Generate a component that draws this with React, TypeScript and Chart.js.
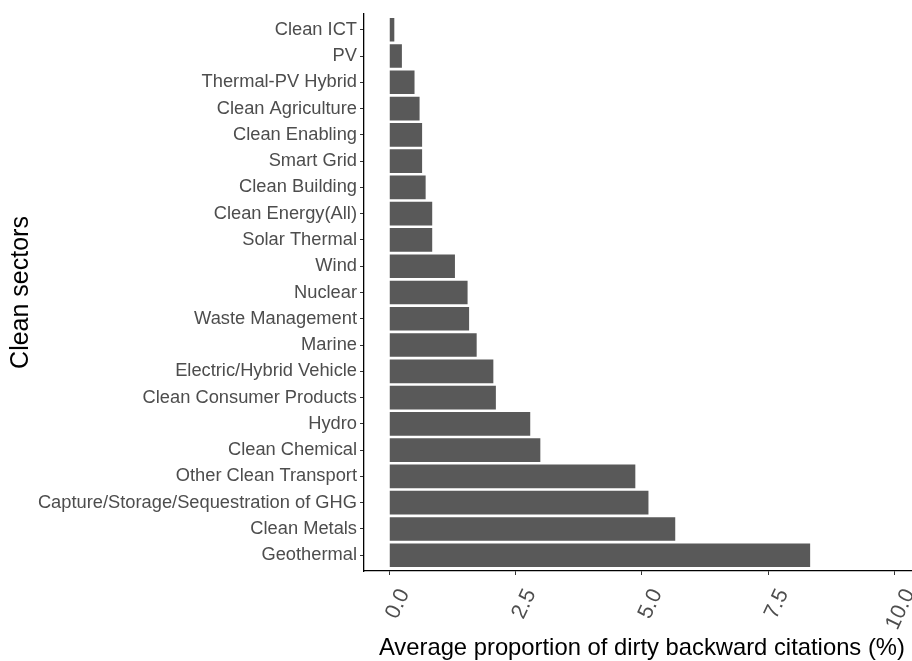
import React, { useEffect, useRef } from "react";
import { Chart, registerables } from "chart.js";

Chart.register(...registerables);

const categories: string[] = [
  "Clean ICT",
  "PV",
  "Thermal-PV Hybrid",
  "Clean Agriculture",
  "Clean Enabling",
  "Smart Grid",
  "Clean Building",
  "Clean Energy(All)",
  "Solar Thermal",
  "Wind",
  "Nuclear",
  "Waste Management",
  "Marine",
  "Electric/Hybrid Vehicle",
  "Clean Consumer Products",
  "Hydro",
  "Clean Chemical",
  "Other Clean Transport",
  "Capture/Storage/Sequestration of GHG",
  "Clean Metals",
  "Geothermal",
];

const values: number[] = [
  0.1, 0.25, 0.5, 0.6, 0.65, 0.65, 0.72, 0.85, 0.85, 1.3, 1.55, 1.58, 1.73,
  2.06, 2.11, 2.79, 2.99, 4.87, 5.13, 5.66, 8.33,
];

const xTickValues: number[] = [0, 2.5, 5, 7.5, 10];

const xTitle = "Average proportion of dirty backward citations (%)";
const yTitle = "Clean sectors";

const FONT = "'Liberation Sans', Arial, sans-serif";

export default function App() {
  const ref = useRef<HTMLCanvasElement | null>(null);

  useEffect(() => {
    if (!ref.current) return;
    const chart = new Chart(ref.current, {
      type: "bar",
      data: {
        datasets: [
          {
            data: values.map((v, i) => ({ x: v, y: i })),
            backgroundColor: "#595959",
            borderWidth: 0,
            barPercentage: 0.9,
            categoryPercentage: 1,
          },
        ],
      },
      options: {
        indexAxis: "y",
        responsive: false,
        animation: false,
        maintainAspectRatio: false,
        layout: { padding: { top: 13, right: 2, bottom: 0, left: 0 } },
        plugins: { legend: { display: false }, tooltip: { enabled: false } },
        scales: {
          x: {
            type: "linear",
            min: -0.5,
            max: 10.5,
            afterBuildTicks: (scale: any) => {
              scale.ticks = xTickValues.map((v) => ({ value: v }));
            },
            afterFit: (scale: any) => {
              scale.height = 90;
            },
            ticks: {
              autoSkip: false,
              minRotation: 65,
              maxRotation: 65,
              labelOffset: 15,
              padding: 10,
              color: "#4d4d4d",
              font: { family: FONT, size: 21.5 },
              callback: (v: any) => Number(v).toFixed(1),
            },
            grid: {
              offset: false,
              drawOnChartArea: false,
              drawTicks: true,
              tickLength: 4,
              color: "#333333",
              lineWidth: 1,
            },
            border: { display: true, color: "#000000", width: 1.3 },
            title: {
              display: true,
              text: xTitle,
              color: "#000000",
              font: { family: FONT, size: 23.8, lineHeight: 1 },
              padding: { top: 0, bottom: 0.5 },
            },
          },
          y: {
            type: "linear",
            reverse: true,
            min: -0.6,
            max: categories.length - 1 + 0.6,
            offset: false,
            afterBuildTicks: (scale: any) => {
              scale.ticks = categories.map((_, i) => ({ value: i }));
            },
            afterFit: (scale: any) => {
              scale.width = 364;
            },
            ticks: {
              autoSkip: false,
              padding: 3,
              color: "#4d4d4d",
              font: { family: FONT, size: 18.3 },
              callback: (v: any) => categories[Math.round(Number(v))] ?? "",
            },
            grid: {
              offset: false,
              drawOnChartArea: false,
              drawTicks: true,
              tickLength: 4,
              color: "#333333",
              lineWidth: 1,
            },
            border: { display: true, color: "#000000", width: 1.3 },
            title: {
              display: true,
              text: yTitle,
              color: "#000000",
              font: { family: FONT, size: 25, lineHeight: 1.2 },
              padding: { top: 6, bottom: 0 },
            },
          },
        },
      },
    });
    return () => chart.destroy();
  }, []);

  return (
    <div
      style={{
        position: "absolute",
        left: 0,
        top: 0,
        width: 912,
        height: 661,
        overflow: "hidden",
        background: "#ffffff",
      }}
    >
      <canvas ref={ref} width={928} height={661} style={{ display: "block" }} />
    </div>
  );
}
